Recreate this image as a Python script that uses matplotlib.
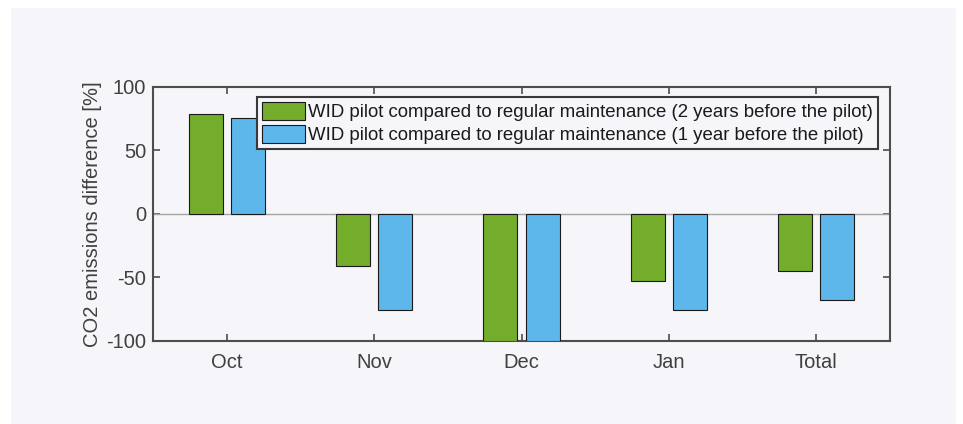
import numpy as np
import matplotlib.pyplot as plt
from matplotlib.patches import Rectangle

# data
categories = ['Oct', 'Nov', 'Dec', 'Jan', 'Total']
two_years = [78.5, -41, -100, -53, -44.5]
one_year = [75.5, -75.5, -100, -75.5, -68]
labels = ['WID pilot compared to regular maintenance (2 years before the pilot)',
          'WID pilot compared to regular maintenance (1 year before the pilot)']
yticks = [-100, -50, 0, 50, 100]

plt.rcParams['font.family'] = ['Liberation Sans', 'DejaVu Sans']
plt.rcParams['axes.unicode_minus'] = False
bg = '#f5f5fa'
txt = '#404040'

fig = plt.figure(figsize=(9.63, 4.24), dpi=100, facecolor='white')
fig.patches.append(Rectangle((11 / 963, 0), (956 - 11) / 963, 1 - 8 / 424,
                             transform=fig.transFigure, facecolor=bg,
                             edgecolor='none', zorder=-1))
ax = fig.add_axes([153 / 963, 1 - 341 / 424, 737 / 963, 254 / 424])
ax.set_facecolor(bg)

x = np.arange(1, len(categories) + 1)
w = 0.23
ax.bar(x - 0.143, two_years, w, color='#73ad2b', edgecolor='#1a1a1a',
       linewidth=0.8, label=labels[0], zorder=3)
ax.bar(x + 0.143, one_year, w, color='#5db7ea', edgecolor='#1a1a1a',
       linewidth=0.8, label=labels[1], zorder=3)
ax.axhline(0, color='#a6a6a6', linewidth=1.0, zorder=2)

ax.set_xlim(0.5, 5.5)
ax.set_ylim(-100, 100)
ax.set_xticks(x)
ax.set_xticklabels(categories)
ax.set_yticks(yticks)
ax.tick_params(direction='in', length=5, width=1.2, colors='#4d4d4d',
               labelcolor=txt, labelsize=14.5, top=True, right=True)
ax.tick_params(axis='x', pad=9)
ax.tick_params(axis='y', pad=5)
for s in ax.spines.values():
    s.set_color('#4d4d4d')
    s.set_linewidth(1.5)
ax.set_ylabel('CO2 emissions difference [%]', fontsize=14.5, color=txt, labelpad=3)

leg = ax.legend(loc='upper right', bbox_to_anchor=(878 / 963, 1 - 97 / 424),
                bbox_transform=fig.transFigure, fontsize=13.4, fancybox=False,
                framealpha=1, edgecolor='#3a3a3a', facecolor=bg,
                handlelength=2.3, handleheight=1.1, handletextpad=0.2,
                borderpad=0.25, labelspacing=0.2, borderaxespad=0)
leg.get_frame().set_linewidth(1.5)
for t in leg.get_texts():
    t.set_color('#1a1a1a')

fig.savefig('out.png', dpi=100, facecolor='white')
